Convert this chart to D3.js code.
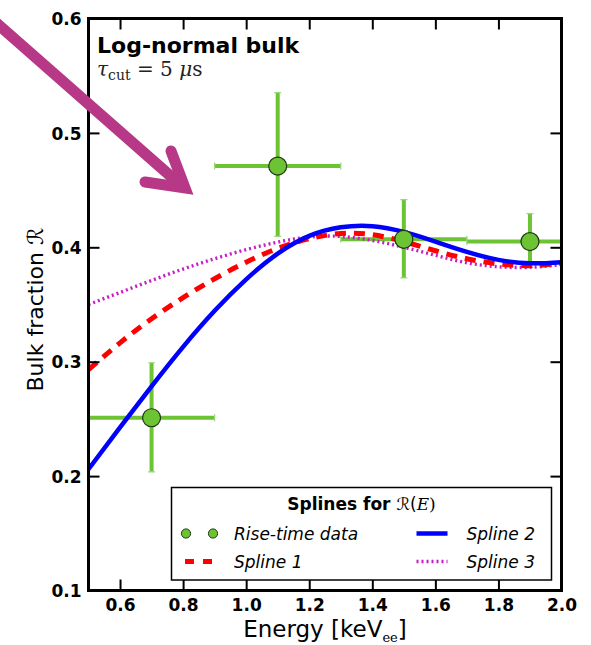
<!DOCTYPE html>
<html><head><meta charset="utf-8">
<script src="https://cdn.jsdelivr.net/npm/d3@7"></script>
<style>
body{margin:0;background:#fff;}
svg{display:block;}
</style></head>
<body>
<svg id="chart" width="591" height="645"></svg>
<script>
// ---- data ----
const energyGrid = [0.5,0.6,0.7,0.8,0.9,1.0,1.1,1.2,1.3,1.4,1.5,1.6,1.7,1.8,1.9,2.0];
const spline1 = [0.293,0.3165,0.3375,0.356,0.3725,0.387,0.399,0.4075,0.412,0.411,0.405,0.397,0.390,0.3855,0.384,0.386];
const spline2 = [0.206,0.2425,0.2785,0.313,0.3445,0.372,0.3945,0.410,0.4175,0.4185,0.4135,0.405,0.396,0.389,0.386,0.387];
const spline3 = [0.350,0.3605,0.371,0.381,0.390,0.398,0.4045,0.409,0.4095,0.406,0.400,0.393,0.3865,0.383,0.3825,0.385];
const dataE = [0.7,1.1,1.5,1.9];
const dataR = [0.251,0.471,0.407,0.405];
const dataXErr = [0.2,0.2,0.2,0.2];
const dataRLow = [0.2037,0.4096,0.3733,0.3823];
const dataRHigh = [0.2991,0.5352,0.4416,0.4294];
const xTicks = [0.6,0.8,1.0,1.2,1.4,1.6,1.8,2.0];
const yTicks = [0.1,0.2,0.3,0.4,0.5,0.6];
const xDomain = [0.5,2.0];
const yDomain = [0.1,0.6];

const svg = d3.select("#chart");
const L = 88.5, R = 561.5, T = 18.5, B = 590.5;
const x = d3.scaleLinear().domain(xDomain).range([L,R]);
const y = d3.scaleLinear().domain(yDomain).range([B,T]);

svg.append("rect").attr("width",591).attr("height",645).attr("fill","#fff");

svg.append("defs").append("clipPath").attr("id","clip")
  .append("rect").attr("x",L).attr("y",T).attr("width",R-L).attr("height",B-T);

const plot = svg.append("g").attr("clip-path","url(#clip)");
const green = "#6cc333";

// error bars
dataE.forEach((e,i)=>{
  plot.append("line").attr("x1",x(e-dataXErr[i])).attr("x2",x(e+dataXErr[i]))
    .attr("y1",y(dataR[i])).attr("y2",y(dataR[i])).attr("stroke",green).attr("stroke-width",4);
  plot.append("line").attr("x1",x(e)).attr("x2",x(e))
    .attr("y1",y(dataRLow[i])).attr("y2",y(dataRHigh[i])).attr("stroke",green).attr("stroke-width",4);
  [dataRLow[i],dataRHigh[i]].forEach(v=>{
    plot.append("line").attr("x1",x(e)-3.5).attr("x2",x(e)+3.5).attr("y1",y(v)).attr("y2",y(v))
      .attr("stroke","#9ad67a").attr("stroke-width",1.2);
  });
  [e-dataXErr[i],e+dataXErr[i]].forEach(v=>{
    plot.append("line").attr("x1",x(v)).attr("x2",x(v)).attr("y1",y(dataR[i])-3.5).attr("y2",y(dataR[i])+3.5)
      .attr("stroke","#9ad67a").attr("stroke-width",1.2);
  });
});

const line = d3.line().x((d,i)=>x(energyGrid[i])).y(d=>y(d)).curve(d3.curveNatural);
plot.append("path").attr("d",line(spline3)).attr("fill","none").attr("stroke","#c41ec4")
  .attr("stroke-width",3.4).attr("stroke-dasharray","2,3");
plot.append("path").attr("d",line(spline1)).attr("fill","none").attr("stroke","#ff0000")
  .attr("stroke-width",5).attr("stroke-dasharray","11,8");
plot.append("path").attr("d",line(spline2)).attr("fill","none").attr("stroke","#0000ff")
  .attr("stroke-width",4.5);

// markers
dataE.forEach((e,i)=>{
  plot.append("circle").attr("cx",x(e)).attr("cy",y(dataR[i])).attr("r",9)
    .attr("fill",green).attr("stroke","#1f3a10").attr("stroke-width",1.2);
});

// axes
const fontTick = "bold 17px 'DejaVu Sans', sans-serif";
const gx = svg.append("g").attr("transform",`translate(0,${B})`)
  .call(d3.axisBottom(x).tickValues(xTicks).tickSizeInner(-11).tickSizeOuter(0).tickPadding(8).tickFormat(d3.format(".1f")));
const gxt = svg.append("g").attr("transform",`translate(0,${T})`)
  .call(d3.axisTop(x).tickValues(xTicks).tickSizeInner(-11).tickSizeOuter(0).tickFormat(""));
const gy = svg.append("g").attr("transform",`translate(${L},0)`)
  .call(d3.axisLeft(y).tickValues(yTicks).tickSizeInner(-11).tickSizeOuter(0).tickPadding(7).tickFormat(d3.format(".1f")));
const gyr = svg.append("g").attr("transform",`translate(${R},0)`)
  .call(d3.axisRight(y).tickValues(yTicks).tickSizeInner(-11).tickSizeOuter(0).tickFormat(""));
[gx,gxt,gy,gyr].forEach(g=>{
  g.select(".domain").remove();
  g.selectAll(".tick line").attr("stroke","#000").attr("stroke-width",2);
  g.selectAll(".tick text").attr("fill","#000").style("font",fontTick);
});
gy.selectAll(".tick text").attr("dy","0.36em");

svg.append("rect").attr("x",L).attr("y",T).attr("width",R-L).attr("height",B-T)
  .attr("fill","none").attr("stroke","#000").attr("stroke-width",3);

// axis labels
const xl = svg.append("text").attr("x",(L+R)/2).attr("y",637).attr("text-anchor","middle")
  .style("font","23px 'DejaVu Sans', sans-serif").attr("fill","#000");
xl.append("tspan").text("Energy [keV");
xl.append("tspan").text("ee").attr("dy",5).style("font-size","13px").style("font-family","'DejaVu Serif', serif");
xl.append("tspan").text("]").attr("dy",-5);

const yl = svg.append("text").attr("transform",`translate(43,${(T+B)/2+5}) rotate(-90)`).attr("text-anchor","middle")
  .style("font","22px 'DejaVu Sans', sans-serif").attr("fill","#000");
yl.append("tspan").text("Bulk fraction ");
yl.append("tspan").text("ℛ").style("font-family","'DejaVu Sans', sans-serif");

// annotation text
svg.append("text").attr("x",97).attr("y",53).text("Log-normal bulk")
  .style("font","bold 22px 'DejaVu Sans', sans-serif").attr("fill","#000");
const tau = svg.append("text").attr("x",97).attr("y",76).style("font","20px 'DejaVu Serif', serif").attr("fill","#222");
tau.append("tspan").text("τ").style("font-style","italic");
tau.append("tspan").text("cut").attr("dy",4).style("font-size","14px");
tau.append("tspan").text(" = ").attr("dy",-4);
tau.append("tspan").text(" 5 ");
tau.append("tspan").text("μ").style("font-style","italic");
tau.append("tspan").text("s");

// legend
const lg = svg.append("g");
lg.append("rect").attr("x",171.5).attr("y",487.5).attr("width",380).attr("height",92.5)
  .attr("fill","#fff").attr("stroke","#000").attr("stroke-width",1.5);
const lt = lg.append("text").attr("x",361.5).attr("y",510).attr("text-anchor","middle")
  .style("font","bold 17px 'DejaVu Sans', sans-serif").attr("fill","#000");
lt.append("tspan").text("Splines for ");
lt.append("tspan").text("ℛ(").style("font-weight","normal").style("font-family","'DejaVu Sans', sans-serif");
lt.append("tspan").text("E").style("font-weight","normal").style("font-style","italic").style("font-family","'DejaVu Serif', serif");
lt.append("tspan").text(")").style("font-weight","normal").style("font-family","'DejaVu Serif', serif");

const legFont = "italic 17px 'DejaVu Sans', sans-serif";
[186,213].forEach(cx=>lg.append("circle").attr("cx",cx).attr("cy",533.5).attr("r",4.6)
  .attr("fill",green).attr("stroke","#1f3a10").attr("stroke-width",1));
lg.append("text").attr("x",234).attr("y",540).text("Rise-time data").style("font",legFont).attr("fill","#000");
lg.append("line").attr("x1",185).attr("x2",213).attr("y1",561.5).attr("y2",561.5)
  .attr("stroke","#ff0000").attr("stroke-width",5).attr("stroke-dasharray","9,9");
lg.append("text").attr("x",234).attr("y",568).text("Spline 1").style("font",legFont).attr("fill","#000");
lg.append("line").attr("x1",416.5).attr("x2",447.5).attr("y1",533.5).attr("y2",533.5)
  .attr("stroke","#0000ff").attr("stroke-width",4.5);
lg.append("text").attr("x",466.5).attr("y",540).text("Spline 2").style("font",legFont).attr("fill","#000");
lg.append("line").attr("x1",416.5).attr("x2",447.5).attr("y1",561.5).attr("y2",561.5)
  .attr("stroke","#c41ec4").attr("stroke-width",3.4).attr("stroke-dasharray","2,3");
lg.append("text").attr("x",466.5).attr("y",568).text("Spline 3").style("font",legFont).attr("fill","#000");

// arrow annotation
const arrowColor = "#b73887";
svg.append("line").attr("x1",-12).attr("y1",15.5).attr("x2",183).attr("y2",187)
  .attr("stroke",arrowColor).attr("stroke-width",11).attr("stroke-linecap","round");
svg.append("path").attr("d","M171,151 L185,188 L145,182")
  .attr("fill","none").attr("stroke",arrowColor).attr("stroke-width",11)
  .attr("stroke-linecap","round").attr("stroke-linejoin","miter");
</script>
</body></html>
